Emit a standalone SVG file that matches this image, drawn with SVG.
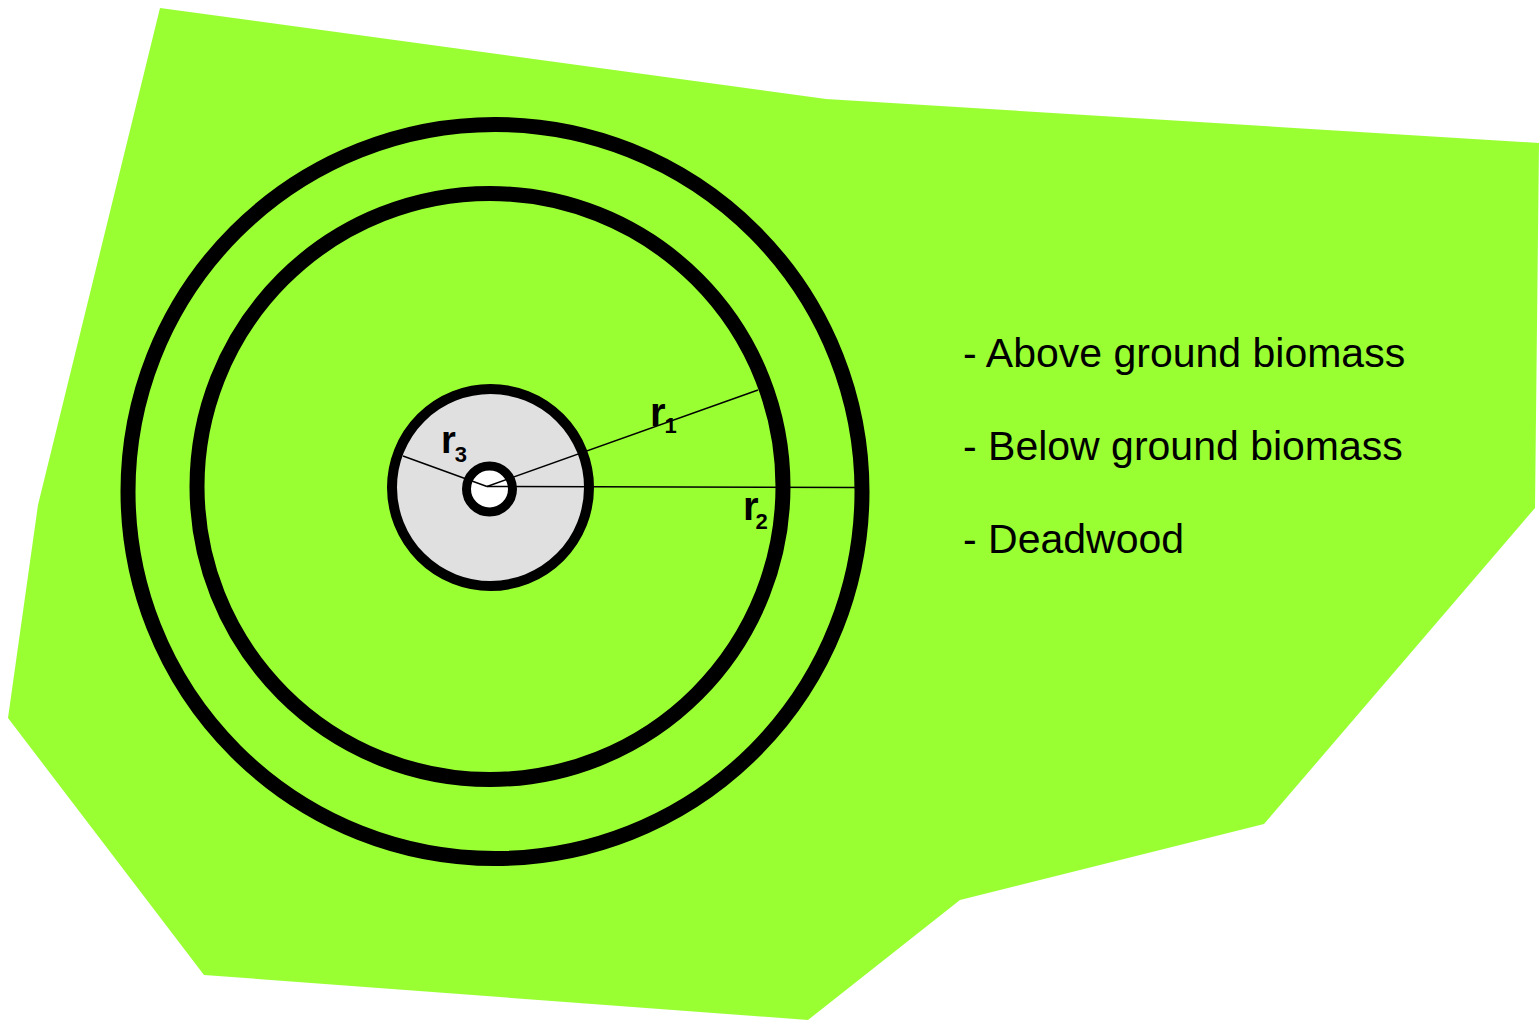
<svg xmlns="http://www.w3.org/2000/svg" width="1539" height="1021" viewBox="0 0 1539 1021">
<style>
.ring{fill:none;stroke:#000;stroke-width:15}
.rad{stroke:#000;stroke-width:1.5;fill:none}
.lbl{font-family:"Liberation Sans",Arial,sans-serif;font-weight:bold;fill:#000}
.leg{font-family:"Liberation Sans",Arial,sans-serif;font-size:41px;fill:#000}
</style>
<rect width="1539" height="1021" fill="#fff"/>
<g id="area">
<polygon points="160,8 826,99 1539,143 1535,508 1264,824 960,900 808,1020 204,975 8,718 38,505" fill="#99ff33"/>
</g>
<g id="outer-ring"><circle cx="495" cy="491.5" r="367" class="ring"/></g>
<g id="middle-ring"><circle cx="490" cy="486.5" r="293" class="ring"/></g>
<g id="inner-disc"><circle cx="490.5" cy="487.5" r="98.5" fill="#e0e0e0" stroke="#000" stroke-width="10"/></g>
<g id="tree"><circle cx="489.5" cy="489" r="23" fill="#fff" stroke="#000" stroke-width="9"/></g>
<g id="connectors">
<line x1="487" y1="486.5" x2="403" y2="456" class="rad"/>
<line x1="487" y1="486.5" x2="758" y2="390" class="rad"/>
<line x1="487" y1="486.5" x2="857" y2="487.5" class="rad"/>
</g>
<g id="labels">
<text x="441" y="453" class="lbl" font-size="38">r<tspan font-size="22" dy="9" dx="-1">3</tspan></text>
<text x="650" y="426" class="lbl" font-size="40">r<tspan font-size="22" dy="7" dx="-1">1</tspan></text>
<text x="743" y="520" class="lbl" font-size="40">r<tspan font-size="22" dy="9" dx="-3">2</tspan></text>
</g>
<g id="legend">
<text x="963" y="367" class="leg">- Above ground biomass</text>
<text x="963" y="460" class="leg">- Below ground biomass</text>
<text x="963" y="553" class="leg">- Deadwood</text>
</g>
</svg>
